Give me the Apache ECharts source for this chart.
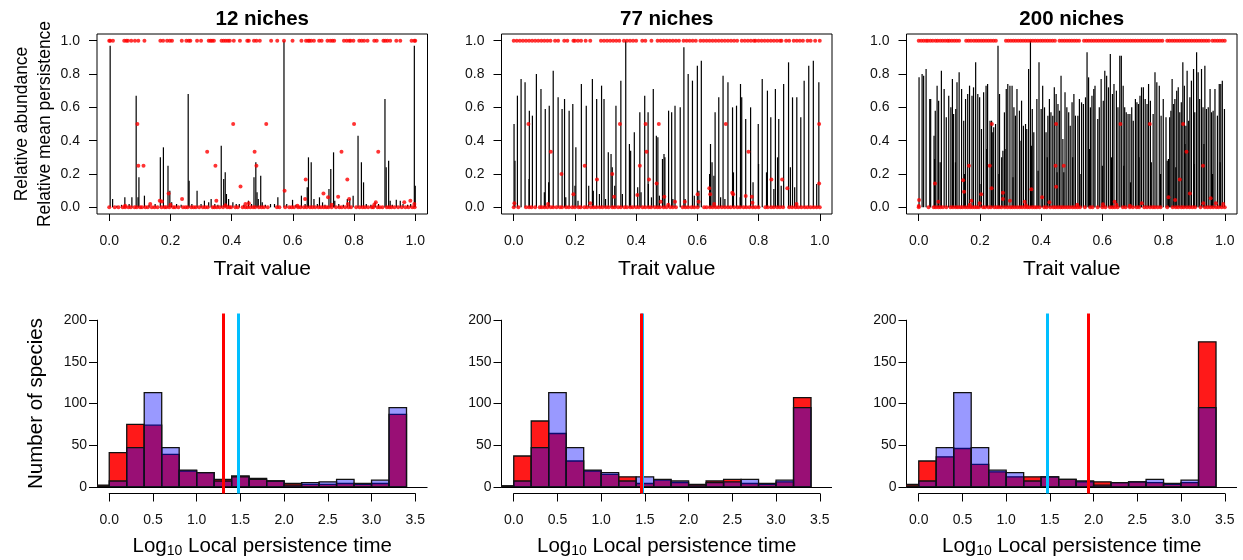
<!DOCTYPE html>
<html>
<head>
<meta charset="utf-8">
<script src="https://cdn.jsdelivr.net/npm/echarts@6.0.0/dist/echarts.min.js"></script>
<style>
html, body { margin: 0; background: #ffffff; }
#chart { width: 1243px; height: 560px; }
</style>
</head>
<body>
<div id="chart"></div>
<script>
var FONT = '"Liberation Sans", Arial, Helvetica, sans-serif';

// ---- data ----
var panelTitles = ['12 niches', '77 niches', '200 niches'];
var traitTicks = [0, 0.2, 0.4, 0.6, 0.8, 1.0];
var abundTicks = [0, 0.2, 0.4, 0.6, 0.8, 1.0];
var timeTicks = [0, 0.5, 1.0, 1.5, 2.0, 2.5, 3.0, 3.5];
var countTicks = [0, 50, 100, 150, 200];

// histogram bins (log10 local persistence time)
var binStarts = [-0.2, 0, 0.2, 0.4, 0.6, 0.8, 1.0, 1.2, 1.4, 1.6, 1.8, 2.0, 2.2, 2.4, 2.6, 2.8, 3.0, 3.2];
var binWidth = 0.2;
var nullCounts = [1, 7, 47, 113, 47, 20, 17, 7, 12, 9, 7, 2, 5, 6, 9, 4, 8, 95];
var counts12 = [2, 41, 75, 74, 39, 19, 17, 9, 13, 10, 7, 4, 3, 3, 4, 3, 4, 87];
var counts77 = [1, 37, 79, 64, 31, 19, 15, 12, 4, 8, 5, 3, 7, 9, 4, 3, 6, 107];
var counts200 = [3, 31, 36, 46, 27, 18, 12, 12, 12, 9, 6, 6, 5, 6, 5, 3, 5, 174];
var medianObserved = [1.30, 1.46, 1.94];
var medianNull = 1.47;

// relative abundance spikes [trait, abundance]
var spikes12 = [
  [0.003,0.97],[0.011,0.05],[0.051,0.06],[0.074,0.06],[0.088,0.67],[0.094,0.06],[0.097,0.18],[0.115,0.07],
  [0.167,0.30],[0.177,0.36],[0.192,0.25],[0.198,0.10],[0.204,0.03],[0.258,0.68],[0.261,0.16],[0.287,0.10],
  [0.300,0.02],[0.311,0.04],[0.325,0.03],[0.333,0.05],[0.366,0.37],[0.374,0.17],[0.379,0.21],[0.383,0.08],
  [0.390,0.05],[0.404,0.03],[0.425,0.02],[0.455,0.04],[0.473,0.18],[0.479,0.27],[0.483,0.09],[0.487,0.05],
  [0.495,0.19],[0.500,0.03],[0.527,0.02],[0.551,0.06],[0.571,1.00],[0.599,0.045],[0.628,0.07],[0.647,0.12],
  [0.651,0.30],[0.660,0.27],[0.669,0.05],[0.687,0.06],[0.697,0.03],[0.718,0.11],[0.724,0.23],[0.733,0.33],
  [0.737,0.04],[0.778,0.05],[0.786,0.05],[0.797,0.07],[0.813,0.43],[0.824,0.27],[0.831,0.15],[0.869,0.03],
  [0.901,0.65],[0.905,0.24],[0.913,0.28],[0.918,0.04],[0.938,0.045],[0.951,0.04],[0.997,0.97],[1.000,0.13],
  [0.025,0.01],[0.040,0.015],[0.065,0.02],[0.130,0.015],[0.150,0.02],[0.220,0.02],[0.235,0.015],[0.270,0.02],
  [0.345,0.02],[0.355,0.015],[0.415,0.02],[0.440,0.015],[0.465,0.02],[0.510,0.015],[0.540,0.02],[0.580,0.02],
  [0.610,0.015],[0.640,0.02],[0.680,0.02],[0.705,0.015],[0.750,0.02],[0.765,0.015],[0.840,0.02],[0.855,0.015],
  [0.880,0.02],[0.925,0.015],[0.960,0.02],[0.975,0.015],[0.985,0.02]
];
var spikes77 = [
  [0.001,0.50],[0.012,0.67],[0.024,0.77],[0.037,0.75],[0.051,0.58],[0.061,0.55],[0.074,0.80],[0.089,0.71],
  [0.103,0.59],[0.116,0.61],[0.129,0.82],[0.145,0.66],[0.158,0.59],[0.166,0.65],[0.181,0.58],[0.193,0.62],
  [0.203,0.36],[0.221,0.74],[0.237,0.61],[0.257,0.77],[0.271,0.65],[0.287,0.73],[0.295,0.65],[0.309,0.33],
  [0.318,0.32],[0.334,0.61],[0.350,0.76],[0.366,1.00],[0.378,0.38],[0.382,0.34],[0.394,0.45],[0.412,0.57],
  [0.428,0.67],[0.439,0.57],[0.456,0.71],[0.466,0.43],[0.471,0.42],[0.491,0.32],[0.506,0.58],[0.516,0.57],
  [0.527,0.61],[0.544,0.60],[0.556,0.96],[0.570,0.80],[0.584,0.76],[0.600,0.85],[0.613,0.88],[0.643,0.38],
  [0.658,0.57],[0.670,0.66],[0.684,0.79],[0.700,0.75],[0.715,0.60],[0.728,0.61],[0.741,0.74],[0.745,0.66],
  [0.758,0.53],[0.774,0.60],[0.799,0.50],[0.812,0.77],[0.829,0.70],[0.840,0.54],[0.855,0.71],[0.866,0.53],
  [0.882,0.74],[0.898,0.87],[0.911,0.66],[0.925,0.66],[0.938,0.54],[0.949,0.76],[0.964,0.85],[0.979,0.88],
  [0.997,0.75],
  [0.004,0.28],[0.050,0.17],[0.100,0.09],[0.114,0.15],[0.170,0.06],[0.200,0.13],[0.245,0.13],[0.260,0.10],
  [0.300,0.05],[0.322,0.24],[0.330,0.13],[0.355,0.08],[0.405,0.12],[0.416,0.09],[0.440,0.14],[0.450,0.06],
  [0.476,0.07],[0.486,0.29],[0.494,0.30],[0.520,0.05],[0.605,0.10],[0.640,0.20],[0.648,0.27],[0.654,0.19],
  [0.676,0.06],[0.718,0.21],[0.740,0.06],[0.782,0.15],[0.800,0.26],[0.826,0.21],[0.850,0.11],[0.862,0.30],
  [0.874,0.13],[0.904,0.24],[0.918,0.12],[0.990,0.14],[0.560,0.05],[0.590,0.07],[0.690,0.05],[0.210,0.04],
  [0.280,0.08]
];
var spikes200 = [
  [0.001,0.78],[0.011,0.80],[0.016,0.79],[0.024,0.83],[0.036,0.65],[0.039,0.65],[0.050,0.43],[0.054,0.58],
  [0.060,0.73],[0.065,0.64],[0.074,0.82],[0.083,0.71],[0.090,0.54],[0.098,0.67],[0.105,0.60],[0.110,0.77],
  [0.114,0.56],[0.121,0.59],[0.125,0.75],[0.132,0.81],[0.140,0.71],[0.147,0.52],[0.153,0.65],[0.160,0.68],
  [0.166,0.73],[0.174,0.67],[0.179,0.72],[0.186,0.87],[0.193,0.68],[0.199,0.66],[0.205,0.47],[0.212,0.69],
  [0.220,0.73],[0.225,0.74],[0.233,0.52],[0.238,0.52],[0.242,0.45],[0.251,0.50],[0.259,0.97],[0.264,0.68],
  [0.271,0.30],[0.275,0.34],[0.280,0.57],[0.286,0.71],[0.291,0.74],[0.298,0.73],[0.305,0.73],[0.311,0.60],
  [0.316,0.55],[0.321,0.71],[0.329,0.58],[0.336,0.64],[0.342,0.49],[0.349,0.50],[0.353,0.47],[0.359,0.83],
  [0.365,1.00],[0.371,0.59],[0.376,0.45],[0.386,0.65],[0.393,0.87],[0.400,0.59],[0.405,0.73],[0.411,0.60],
  [0.416,0.45],[0.422,0.55],[0.427,0.65],[0.432,0.57],[0.438,0.55],[0.443,0.72],[0.449,0.68],[0.455,0.62],
  [0.460,0.58],[0.465,0.79],[0.471,0.41],[0.478,0.69],[0.484,0.60],[0.490,0.57],[0.495,0.49],[0.501,0.63],
  [0.507,0.68],[0.512,0.55],[0.520,0.55],[0.525,0.65],[0.532,0.63],[0.538,0.62],[0.545,0.66],[0.550,0.93],
  [0.555,0.78],[0.561,0.60],[0.566,0.67],[0.572,0.71],[0.576,0.73],[0.585,0.53],[0.590,0.60],[0.596,0.77],
  [0.603,0.64],[0.608,0.82],[0.614,0.79],[0.620,0.72],[0.626,0.92],[0.633,0.68],[0.638,0.74],[0.646,0.70],
  [0.651,0.60],[0.657,0.91],[0.662,0.91],[0.668,0.73],[0.673,0.60],[0.678,0.57],[0.684,0.56],[0.690,0.56],
  [0.696,0.60],[0.701,0.52],[0.708,0.65],[0.713,0.63],[0.718,0.62],[0.723,0.67],[0.728,0.72],[0.734,0.72],
  [0.740,0.65],[0.746,0.62],[0.751,0.74],[0.757,0.64],[0.766,0.56],[0.772,0.81],[0.778,0.75],[0.786,0.73],
  [0.792,0.55],[0.799,0.65],[0.808,0.54],[0.816,0.29],[0.820,0.54],[0.824,0.58],[0.828,0.77],[0.833,0.62],
  [0.837,0.65],[0.843,0.70],[0.848,0.72],[0.853,0.57],[0.858,0.63],[0.863,0.87],[0.868,0.73],[0.873,0.49],
  [0.877,0.82],[0.882,0.52],[0.886,0.66],[0.891,0.76],[0.898,0.83],[0.902,0.57],[0.908,0.93],[0.913,0.81],
  [0.918,0.65],[0.924,0.83],[0.929,0.60],[0.935,0.85],[0.940,0.59],[0.946,0.60],[0.952,0.71],[0.957,0.57],
  [0.962,0.58],[0.968,0.71],[0.976,0.55],[0.982,0.74],[0.987,0.74],[0.992,0.76],[0.999,0.59],
  [0.052,0.29],[0.070,0.27],[0.120,0.27],[0.150,0.20],[0.200,0.14],[0.222,0.35],[0.245,0.48],[0.262,0.20],
  [0.282,0.35],[0.308,0.18],[0.331,0.40],[0.368,0.37],[0.390,0.22],[0.420,0.30],[0.452,0.21],[0.474,0.21],
  [0.503,0.30],[0.530,0.20],[0.558,0.35],[0.600,0.25],[0.630,0.30],[0.670,0.25],[0.692,0.15],[0.720,0.30],
  [0.760,0.27],[0.790,0.20],[0.812,0.28],[0.840,0.24],[0.870,0.38],[0.900,0.26],[0.932,0.38],[0.960,0.20],
  [0.985,0.27]
];

// relative mean persistence (red points)
var persistOne12 = [0.000,0.003,0.012,0.049,0.056,0.061,0.072,0.084,0.095,0.115,0.167,0.176,0.189,0.198,0.205,
  0.237,0.252,0.260,0.265,0.287,0.300,0.325,0.331,0.336,0.342,0.367,0.374,0.381,0.388,0.394,0.407,0.427,
  0.451,0.456,0.473,0.481,0.492,0.529,0.549,0.571,0.599,0.628,0.643,0.650,0.654,0.660,0.669,0.686,0.694,
  0.713,0.722,0.729,0.735,0.767,0.776,0.784,0.789,0.798,0.817,0.825,0.833,0.844,0.866,0.874,0.896,0.902,
  0.909,0.918,0.938,0.951,0.988,0.997,1.000];
var persistZero12 = [0.000,0.018,0.030,0.044,0.052,0.063,0.071,0.083,0.090,0.101,0.107,0.118,0.126,0.139,0.148,
  0.158,0.171,0.181,0.186,0.196,0.209,0.215,0.226,0.241,0.249,0.256,0.268,0.276,0.283,0.294,0.306,0.314,
  0.322,0.338,0.344,0.352,0.361,0.372,0.385,0.393,0.398,0.412,0.420,0.436,0.445,0.452,0.461,0.470,0.477,
  0.489,0.498,0.506,0.518,0.548,0.556,0.575,0.588,0.596,0.604,0.617,0.625,0.636,0.645,0.656,0.664,0.673,
  0.684,0.692,0.701,0.709,0.716,0.727,0.741,0.752,0.760,0.771,0.782,0.790,0.807,0.818,0.828,0.836,0.846,
  0.858,0.863,0.877,0.884,0.893,0.907,0.915,0.922,0.932,0.944,0.956,0.968,0.978,0.990,0.998];
var persistMid12 = [
  [0.092,0.500],[0.095,0.250],[0.112,0.250],[0.194,0.083],[0.238,0.050],[0.320,0.333],[0.347,0.250],[0.350,0.040],
  [0.405,0.500],[0.429,0.125],[0.475,0.333],[0.481,0.250],[0.513,0.500],[0.573,0.100],[0.642,0.167],[0.640,0.050],
  [0.700,0.083],[0.759,0.333],[0.778,0.167],[0.784,0.050],[0.800,0.500],[0.879,0.333],[0.748,0.063],[0.165,0.040],
  [0.134,0.020],[0.964,0.030],[0.984,0.040],[0.871,0.030],[0.172,0.035],[0.445,0.020],[0.456,0.025],[0.615,0.010],
  [0.715,0.060],[0.727,0.015],[0.780,0.020],[0.866,0.015],[0.997,0.020],[0.052,0.010],[0.200,0.015],[0.380,0.012]
];
var persistOne77 = [0.000,0.010,0.020,0.030,0.040,0.050,0.060,0.070,0.080,0.090,0.100,0.110,0.120,0.135,0.145,
  0.165,0.175,0.195,0.200,0.210,0.220,0.235,0.250,0.285,0.295,0.305,0.315,0.325,0.335,0.345,0.360,0.370,
  0.380,0.390,0.400,0.420,0.430,0.450,0.470,0.480,0.490,0.500,0.510,0.520,0.530,0.540,0.555,0.565,0.575,
  0.585,0.595,0.610,0.620,0.630,0.640,0.650,0.660,0.670,0.680,0.690,0.700,0.710,0.720,0.730,0.745,0.755,
  0.765,0.775,0.785,0.790,0.800,0.810,0.820,0.830,0.840,0.850,0.860,0.870,0.875,0.890,0.900,0.915,0.925,
  0.935,0.945,0.960,0.970,0.985,1.000];
var persistZero77 = [0.000,0.015,0.040,0.050,0.058,0.070,0.085,0.092,0.101,0.110,0.121,0.129,0.140,0.151,0.158,
  0.171,0.180,0.191,0.200,0.212,0.219,0.231,0.240,0.252,0.261,0.270,0.281,0.290,0.301,0.310,0.322,0.330,
  0.341,0.350,0.362,0.370,0.381,0.389,0.400,0.409,0.421,0.430,0.441,0.449,0.461,0.470,0.478,0.490,0.499,
  0.511,0.520,0.530,0.552,0.561,0.570,0.581,0.590,0.601,0.622,0.630,0.641,0.650,0.660,0.669,0.680,0.690,
  0.700,0.709,0.720,0.731,0.740,0.751,0.760,0.770,0.781,0.790,0.800,0.822,0.830,0.841,0.850,0.861,0.870,
  0.880,0.900,0.910,0.921,0.930,0.940,0.951,0.960,0.970,0.980,0.990,1.000];
var persistMid77 = [
  [0.002,0.024],[0.048,0.500],[0.121,0.333],[0.156,0.200],[0.195,0.078],[0.232,0.250],[0.272,0.167],[0.322,0.200],
  [0.328,0.064],[0.347,0.500],[0.404,0.074],[0.412,0.250],[0.431,0.500],[0.434,0.333],[0.442,0.167],[0.467,0.143],
  [0.474,0.500],[0.480,0.034],[0.492,0.064],[0.527,0.034],[0.559,0.034],[0.601,0.078],[0.604,0.034],[0.639,0.114],
  [0.642,0.078],[0.693,0.500],[0.714,0.088],[0.717,0.078],[0.758,0.068],[0.767,0.333],[0.778,0.064],[0.780,0.028],
  [0.842,0.167],[0.877,0.167],[0.894,0.114],[0.998,0.500],[0.998,0.143],[0.924,0.020],[0.112,0.020],[0.250,0.025],
  [0.655,0.020],[0.505,0.015]
];
var persistOne200 = [0.000,0.008,0.016,0.024,0.030,0.038,0.046,0.055,0.062,0.070,0.078,0.086,0.094,0.100,0.108,
  0.116,0.124,0.132,0.155,0.163,0.171,0.180,0.188,0.196,0.204,0.212,0.220,0.228,0.236,0.244,0.252,0.285,
  0.293,0.301,0.309,0.317,0.325,0.333,0.341,0.349,0.357,0.365,0.373,0.381,0.389,0.397,0.405,0.413,0.421,
  0.429,0.437,0.445,0.460,0.468,0.476,0.484,0.492,0.500,0.508,0.516,0.524,0.540,0.548,0.556,0.564,0.572,
  0.580,0.588,0.596,0.604,0.612,0.620,0.628,0.636,0.644,0.652,0.660,0.668,0.676,0.684,0.692,0.700,0.708,
  0.716,0.724,0.732,0.740,0.748,0.756,0.764,0.772,0.780,0.788,0.796,0.812,0.820,0.828,0.836,0.844,0.852,
  0.860,0.868,0.876,0.884,0.892,0.900,0.908,0.916,0.924,0.932,0.940,0.948,0.960,0.968,0.976,0.984,0.992,1.000];
var persistZero200 = [0.000,0.032,0.049,0.056,0.064,0.071,0.079,0.090,0.104,0.112,0.121,0.128,0.136,0.143,0.152,
  0.160,0.168,0.175,0.183,0.190,0.197,0.210,0.217,0.228,0.236,0.247,0.255,0.262,0.270,0.281,0.290,0.299,
  0.306,0.314,0.322,0.330,0.338,0.347,0.355,0.362,0.371,0.379,0.386,0.395,0.410,0.418,0.430,0.440,0.447,
  0.455,0.463,0.470,0.478,0.486,0.494,0.503,0.511,0.519,0.527,0.543,0.560,0.568,0.585,0.600,0.610,0.625,
  0.633,0.641,0.650,0.667,0.676,0.690,0.700,0.712,0.720,0.737,0.746,0.756,0.765,0.772,0.781,0.790,0.812,
  0.830,0.840,0.848,0.858,0.866,0.876,0.885,0.894,0.903,0.921,0.935,0.944,0.953,0.962,0.972,0.980,0.990,1.000];
var persistMid200 = [
  [0.000,0.008],[0.001,0.044],[0.053,0.143],[0.064,0.034],[0.145,0.163],[0.148,0.094],[0.164,0.250],[0.172,0.040],
  [0.204,0.078],[0.199,0.024],[0.232,0.250],[0.238,0.114],[0.239,0.500],[0.275,0.088],[0.275,0.050],[0.298,0.040],
  [0.346,0.034],[0.368,0.108],[0.403,0.060],[0.427,0.030],[0.447,0.250],[0.449,0.124],[0.449,0.500],[0.474,0.250],
  [0.640,0.034],[0.659,0.500],[0.729,0.024],[0.755,0.500],[0.816,0.060],[0.838,0.044],[0.853,0.167],[0.864,0.500],
  [0.875,0.333],[0.886,0.083],[0.929,0.250],[0.930,0.024],[0.954,0.054],[0.971,0.024],[0.995,0.020],[0.167,0.015],
  [0.350,0.012],[0.518,0.015],[0.602,0.018],[0.646,0.015],[0.690,0.010]
];

var spikeSets = [spikes12, spikes77, spikes200];
var persistOneSets = [persistOne12, persistOne77, persistOne200];
var persistZeroSets = [persistZero12, persistZero77, persistZero200];
var persistMidSets = [persistMid12, persistMid77, persistMid200];
var countSets = [counts12, counts77, counts200];

// ---- layout ----
var panelLeft = [97, 501.5, 906.5];
var panelWidth = 330.5;
var histTop = 313.5, histHeight = 180;
var timeMin = -0.14, timeMax = 3.64;   // xlim c(0, 3.5) padded like R
var countMin = -8, countMax = 208;     // ylim c(0, 200) padded like R
var RED_BAR = 'rgba(255,0,0,0.9)';
var BLUE_BAR = 'rgba(0,0,255,0.4)';

var chart = echarts.init(document.getElementById('chart'), null, { renderer: 'canvas' });

function renderSpike(params, api) {
  var x = api.value(0), y = api.value(1);
  var p0 = api.coord([x, 0]);
  var p1 = api.coord([x, y]);
  return {
    type: 'line',
    shape: { x1: p0[0], y1: p0[1], x2: p1[0], y2: p1[1] },
    style: { stroke: '#000', lineWidth: 1.2 }
  };
}

function binRenderer(fill) {
  return function (params, api) {
    var a = api.coord([api.value(0), 0]);
    var b = api.coord([api.value(1), api.value(2)]);
    return {
      type: 'rect',
      shape: { x: a[0], y: b[1], width: b[0] - a[0], height: a[1] - b[1] },
      style: { fill: fill, stroke: '#111', lineWidth: 1.3 }
    };
  };
}

function binData(counts) {
  var out = [];
  for (var i = 0; i < binStarts.length; i++) {
    if (counts[i] > 0) out.push([binStarts[i], binStarts[i] + binWidth, counts[i]]);
  }
  return out;
}

var tickLabel = { fontFamily: FONT, fontSize: 14, color: '#111' };

var grids = [], xAxes = [], yAxes = [], series = [], graphics = [];

for (var p = 0; p < 3; p++) {
  var gTop = p, gBot = p + 3, gAx = p + 6;
  var L = panelLeft[p];

  // ---- top panel (boxed) ----
  grids[gTop] = { left: L, top: 34, width: panelWidth, height: 180, show: true,
    borderColor: '#000', borderWidth: 1, backgroundColor: 'transparent' };
  xAxes[gTop] = {
    gridIndex: gTop, type: 'value', min: -0.04, max: 1.04,
    axisLine: { show: false, onZero: false }, splitLine: { show: false },
    axisTick: { show: true, inside: false, length: 7, customValues: traitTicks, lineStyle: { color: '#000' } },
    axisLabel: Object.assign({ customValues: traitTicks, margin: 20, formatter: function (v) { return v.toFixed(1); } }, tickLabel),
    name: 'Trait value', nameLocation: 'middle', nameGap: 45,
    nameTextStyle: { fontFamily: FONT, fontSize: 21, color: '#000' }
  };
  yAxes[gTop] = {
    gridIndex: gTop, type: 'value', min: -0.04, max: 1.04,
    axisLine: { show: false, onZero: false }, splitLine: { show: false },
    axisTick: { show: true, inside: false, length: 8, customValues: abundTicks, lineStyle: { color: '#000' } },
    axisLabel: Object.assign({ customValues: abundTicks, margin: 17, formatter: function (v) { return v.toFixed(1); } }, tickLabel),
    name: p === 0 ? 'Relative abundance\nRelative mean persistence' : '',
    nameLocation: 'middle', nameRotate: 90, nameGap: 40,
    nameTextStyle: { fontFamily: FONT, fontSize: 17.5, lineHeight: 23, color: '#000' }
  };
  series.push({
    type: 'custom', xAxisIndex: gTop, yAxisIndex: gTop, renderItem: renderSpike,
    data: spikeSets[p], silent: true, z: 2
  });
  var dots = [];
  persistOneSets[p].forEach(function (x) { dots.push([x, 1]); });
  persistZeroSets[p].forEach(function (x) { dots.push([x, 0]); });
  persistMidSets[p].forEach(function (d) { dots.push(d); });
  series.push({
    type: 'scatter', xAxisIndex: gTop, yAxisIndex: gTop, data: dots,
    symbol: 'circle', symbolSize: 4, itemStyle: { color: '#ff0000' }, silent: true, z: 3
  });
  graphics.push({
    type: 'text', x: L + panelWidth / 2, y: 19,
    style: { text: panelTitles[p], textAlign: 'center', textVerticalAlign: 'middle',
      font: 'bold 20.5px ' + FONT, fill: '#000' }
  });

  // ---- bottom panel: data grid covering the padded plot region ----
  grids[gBot] = { left: L, top: histTop, width: panelWidth, height: histHeight, show: false };
  xAxes[gBot] = { gridIndex: gBot, type: 'value', min: timeMin, max: timeMax, show: false };
  yAxes[gBot] = { gridIndex: gBot, type: 'value', min: countMin, max: countMax, show: false };

  // ---- bottom panel: axis grid over the tick range only, axes pushed out to the plot edge (R style) ----
  var pxPerT = panelWidth / (timeMax - timeMin);
  var pxPerC = histHeight / (countMax - countMin);
  var t0 = timeTicks[0], t1 = timeTicks[timeTicks.length - 1];
  var c0 = countTicks[0], c1 = countTicks[countTicks.length - 1];
  grids[gAx] = {
    left: L + (t0 - timeMin) * pxPerT, width: (t1 - t0) * pxPerT,
    top: histTop + (countMax - c1) * pxPerC, height: (c1 - c0) * pxPerC, show: false
  };
  xAxes[gAx] = {
    gridIndex: gAx, type: 'value', min: t0, max: t1, interval: 0.5,
    offset: (c0 - countMin) * pxPerC,
    axisLine: { show: true, onZero: false, lineStyle: { color: '#000', width: 1 } }, splitLine: { show: false },
    axisTick: { show: true, inside: false, length: 8, lineStyle: { color: '#000' } },
    axisLabel: Object.assign({ margin: 20, showMinLabel: true, showMaxLabel: true,
      formatter: function (v) { return v.toFixed(1); } }, tickLabel),
    name: '{a|Log}{b|10}{a| Local persistence time}', nameLocation: 'middle', nameGap: 42,
    nameTextStyle: {
      color: '#000',
      rich: {
        a: { fontFamily: FONT, fontSize: 20.5, color: '#000', lineHeight: 24, verticalAlign: 'top' },
        b: { fontFamily: FONT, fontSize: 14, color: '#000', lineHeight: 14, verticalAlign: 'top', padding: [9, 0, 0, 0] }
      }
    }
  };
  yAxes[gAx] = {
    gridIndex: gAx, type: 'value', min: c0, max: c1, interval: 50,
    offset: (t0 - timeMin) * pxPerT,
    axisLine: { show: true, onZero: false, lineStyle: { color: '#000', width: 1 } }, splitLine: { show: false },
    axisTick: { show: true, inside: false, length: 8, lineStyle: { color: '#000' } },
    axisLabel: Object.assign({ margin: 10, showMinLabel: true, showMaxLabel: true }, tickLabel),
    name: p === 0 ? 'Number of species' : '',
    nameLocation: 'middle', nameRotate: 90, nameGap: 50,
    nameTextStyle: { fontFamily: FONT, fontSize: 20.5, color: '#000' }
  };

  series.push({
    type: 'custom', xAxisIndex: gBot, yAxisIndex: gBot, renderItem: binRenderer(RED_BAR),
    data: binData(countSets[p]), encode: { x: [0, 1], y: 2 }, clip: true, silent: true, z: 2
  });
  series.push({
    type: 'custom', xAxisIndex: gBot, yAxisIndex: gBot, renderItem: binRenderer(BLUE_BAR),
    data: binData(nullCounts), encode: { x: [0, 1], y: 2 }, clip: true, silent: true, z: 3
  });
  series.push({
    type: 'custom', xAxisIndex: gBot, yAxisIndex: gBot, renderItem: function () { return null; },
    data: [[t0, c0]], silent: true, z: 4,
    markLine: {
      silent: true, symbol: ['none', 'none'], label: { show: false }, animation: false,
      data: [
        { yAxis: 0, lineStyle: { color: '#000', width: 1, type: 'solid' } },
        { xAxis: medianNull, lineStyle: { color: '#00bfff', width: 3, type: 'solid' } },
        { xAxis: medianObserved[p], lineStyle: { color: '#ff0000', width: 3, type: 'solid' } }
      ]
    }
  });
}

chart.setOption({
  animation: false,
  backgroundColor: '#ffffff',
  grid: grids,
  xAxis: xAxes,
  yAxis: yAxes,
  series: series,
  graphic: graphics
});
</script>
</body>
</html>
